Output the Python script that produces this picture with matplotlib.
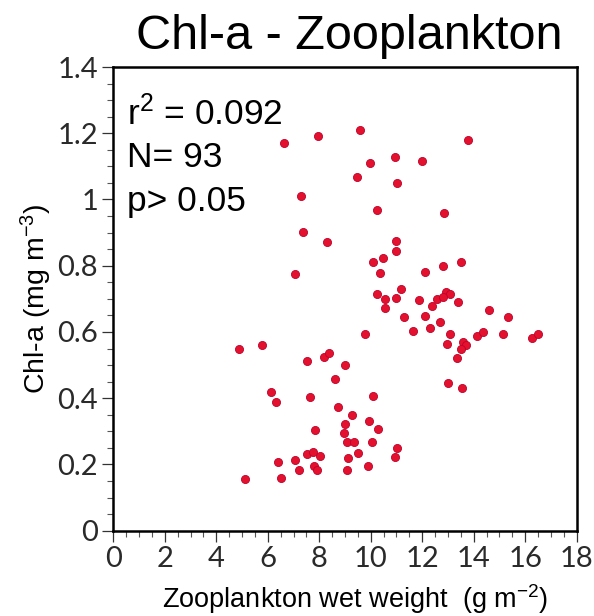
import matplotlib
matplotlib.use("Agg")
import matplotlib.pyplot as plt
from matplotlib.ticker import MultipleLocator

plt.rcParams['font.family'] = ['Liberation Sans', 'DejaVu Sans']
plt.rcParams['mathtext.fontset'] = 'custom'
plt.rcParams['mathtext.rm'] = 'Liberation Sans'
plt.rcParams['mathtext.it'] = 'Liberation Sans'

zoo_weight = [6.62, 7.96, 7.29, 7.37, 8.29, 7.07, 4.90, 5.77, 7.51, 8.19,
              8.37, 9.01, 8.62, 6.11, 6.33, 7.65, 8.72, 7.82, 9.00, 8.96,
              7.54, 7.77, 8.03, 6.39, 7.05, 7.20, 7.79, 7.93, 5.10, 6.53,
              9.57, 9.97, 10.94, 12.00, 9.48, 11.02, 10.26, 12.86, 10.97, 10.97,
              10.48, 10.10, 10.36, 12.80, 12.12, 10.23, 11.18, 10.57, 10.97, 10.54,
              11.89, 12.39, 12.58, 12.93, 13.08, 11.29, 12.11, 12.69, 11.63, 12.30,
              9.79, 13.08, 12.96, 13.02, 10.10, 9.26, 9.95, 10.30, 9.07, 9.35,
              10.06, 9.52, 11.03, 10.94, 9.11, 9.07, 9.90, 13.78, 13.51, 13.40,
              14.60, 15.32, 13.59, 13.70, 13.51, 13.34, 14.12, 14.37, 15.14, 16.25,
              16.51, 13.56, 12.80]
chl_a = [1.170, 1.192, 1.011, 0.902, 0.872, 0.775, 0.549, 0.560, 0.513, 0.524,
         0.536, 0.499, 0.457, 0.418, 0.390, 0.405, 0.373, 0.304, 0.321, 0.294,
         0.233, 0.239, 0.226, 0.208, 0.213, 0.182, 0.196, 0.183, 0.155, 0.159,
         1.210, 1.109, 1.127, 1.115, 1.067, 1.050, 0.969, 0.960, 0.875, 0.845,
         0.823, 0.811, 0.779, 0.799, 0.780, 0.716, 0.730, 0.700, 0.704, 0.673,
         0.696, 0.679, 0.700, 0.722, 0.714, 0.646, 0.649, 0.629, 0.603, 0.611,
         0.593, 0.593, 0.563, 0.445, 0.408, 0.349, 0.330, 0.306, 0.268, 0.267,
         0.269, 0.234, 0.249, 0.222, 0.219, 0.183, 0.195, 1.179, 0.811, 0.691,
         0.665, 0.644, 0.571, 0.561, 0.548, 0.522, 0.588, 0.599, 0.595, 0.582,
         0.595, 0.432, 0.707]

x_ticks = [0, 2, 4, 6, 8, 10, 12, 14, 16, 18]
x_tick_labels = ['0', '2', '4', '6', '8', '10', '12', '14', '16', '18']
y_ticks = [0, 0.2, 0.4, 0.6, 0.8, 1.0, 1.2, 1.4]
y_tick_labels = ['0', '0.2', '0.4', '0.6', '0.8', '1', '1.2', '1.4']
stats_lines = ['r$^{2}$ = 0.092', 'N= 93', 'p> 0.05']

fig = plt.figure(figsize=(5.94, 6.16), dpi=100)
ax = fig.add_axes([113.3 / 594, 1 - 530.7 / 616, 463.4 / 594, 463.7 / 616])

ax.scatter(zoo_weight, chl_a, s=34, color='#e3112e', edgecolors='#c0002a',
           linewidths=0.6, zorder=3)

ax.set_xlim(0, 18)
ax.set_ylim(0, 1.4)
ax.set_xticks(x_ticks)
ax.set_xticklabels(x_tick_labels)
ax.set_yticks(y_ticks)
ax.set_yticklabels(y_tick_labels)
ax.xaxis.set_minor_locator(MultipleLocator(0.5))
ax.yaxis.set_minor_locator(MultipleLocator(0.05))

for lab in ax.get_xticklabels() + ax.get_yticklabels():
    lab.set_fontfamily(['Lato', 'DejaVu Sans'])
    lab.set_fontweight('normal')
    lab.set_fontsize(21)
    lab.set_color('#2a2a2a')

ax.tick_params(which='major', direction='out', length=8, width=0.9,
               color='#333333', pad=3)
ax.tick_params(which='minor', direction='out', length=4, width=0.8,
               color='#555555')
ax.tick_params(top=False, right=False, which='both')

for sp in ax.spines.values():
    sp.set_linewidth(1.8)
    sp.set_color('black')

ax.set_title('Chl-a - Zooplankton', fontsize=35, pad=13, x=0.51)
ax.set_xlabel('Zooplankton wet weight  (g m$^{\\mathrm{-2}}$)', fontsize=19.5,
              labelpad=7, x=0.522)
ax.set_ylabel('Chl-a (mg m$^{\\mathrm{-3}}$)', fontsize=20.5, labelpad=2)

for i, line in enumerate(stats_lines):
    ax.text(0.03, 0.90 - i * 0.095, line, transform=ax.transAxes,
            fontsize=25.5, ha='left', va='center')

fig.savefig('out.png', dpi=100)
